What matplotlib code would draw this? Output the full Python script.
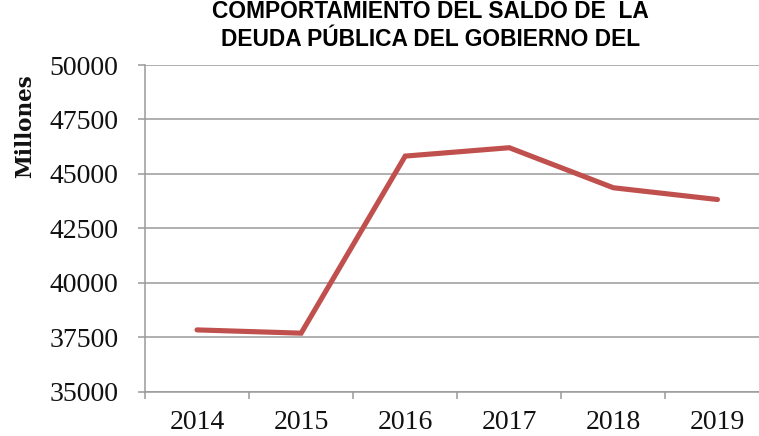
import matplotlib
matplotlib.use("Agg")
import matplotlib.pyplot as plt
from matplotlib.ticker import FixedLocator, NullFormatter

years = ["2014", "2015", "2016", "2017", "2018", "2019"]
values = [37830, 37680, 45815, 46200, 44360, 43820]
yticks = [35000, 37500, 40000, 42500, 45000, 47500, 50000]
title_lines = ["COMPORTAMIENTO DEL SALDO DE  LA", "DEUDA PÚBLICA DEL GOBIERNO DEL"]
ylabel = "Millones"

W, H = 759, 436
fig = plt.figure(figsize=(W / 100, H / 100), dpi=100)
left, right, top, bottom = 145, 769.5, 65, 391.5
ax = fig.add_axes([left / W, 1 - bottom / H, (right - left) / W, (bottom - top) / H])

grid_col = "#9a9a9a"
x = list(range(len(years)))
ax.plot(x, values, color="#C0504D", lw=3.7, solid_capstyle="round", solid_joinstyle="miter", zorder=3)

ax.set_xlim(-0.5, len(years) - 0.5)
ax.set_ylim(35000, 50000)
ax.set_yticks(yticks)
ax.set_yticklabels([str(v) for v in yticks])
ax.yaxis.grid(True, color=grid_col, lw=1.1)
ax.set_axisbelow(True)

ax.set_xticks(x)
ax.set_xticklabels(years)
ax.xaxis.set_minor_locator(FixedLocator([i - 0.5 for i in range(len(years) + 1)]))
ax.xaxis.set_minor_formatter(NullFormatter())
ax.tick_params(axis="x", which="major", length=0, pad=13.5)
ax.tick_params(axis="x", which="minor", length=5, width=1.1, color=grid_col, direction="out")
ax.tick_params(axis="y", length=5, width=1.1, color=grid_col, direction="out", pad=14)

for lab in ax.get_xticklabels() + ax.get_yticklabels():
    lab.set_fontfamily("Liberation Serif")
    lab.set_fontsize(20)
    lab.set_color("#111111")

for s in ["top", "right"]:
    ax.spines[s].set_visible(False)
for s in ["left", "bottom"]:
    ax.spines[s].set_color(grid_col)
    ax.spines[s].set_linewidth(1.1)

fig.text(25 / W, 1 - 126 / H, ylabel, rotation=90, ha="center", va="center",
         fontfamily="DejaVu Serif", fontweight="bold", fontsize=15.5, color="#111111")

fig.text(430.5 / W, 1 - 11 / H, title_lines[0], ha="center", va="center",
         fontfamily="Liberation Sans", fontweight="bold", fontsize=16.4, color="#000000")
fig.text(430.5 / W, 1 - 40 / H, title_lines[1], ha="center", va="center",
         fontfamily="Liberation Sans", fontweight="bold", fontsize=16.4, color="#000000")

fig.savefig("out.png", dpi=100)
